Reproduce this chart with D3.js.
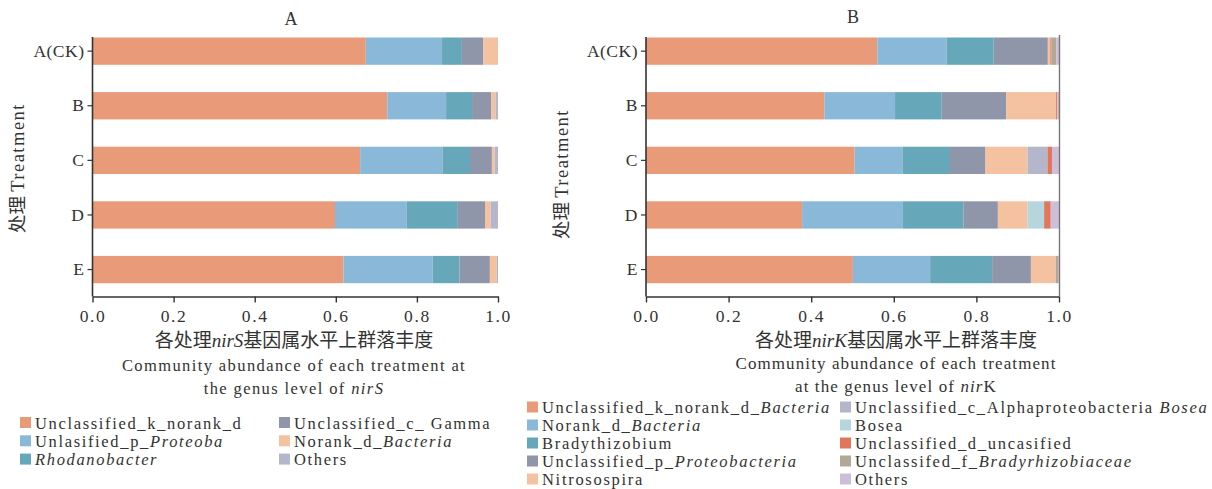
<!DOCTYPE html>
<html>
<head>
<meta charset="utf-8">
<script src="https://cdn.jsdelivr.net/npm/d3@7"></script>
<style>
  body { margin: 0; background: #fff; }
  svg text { font-family: "Liberation Serif", "DejaVu Serif", serif; fill: #333; }
  svg .cjk { font-family: "Noto Sans CJK SC", sans-serif; }
</style>
</head>
<body>
<svg id="chart" width="1212" height="489"></svg>
<script>
// Treatments (rows) and x-axis ticks shared by both panels
const treatments = ["A(CK)", "B", "C", "D", "E"];
const tickValues = [0, 0.2, 0.4, 0.6, 0.8, 1.0];

// nirS genera (segments wrapped in * are italic)
const nirSGenera = ["Unclassified_k_norank_d", "Unlasified_p_*Proteoba*", "*Rhodanobacter*",
                    "Unclassified_c_ Gamma", "Norank_d_*Bacteria*", "Others"];
const nirSColors = ["#e99a78", "#8ab8d8", "#67a7ba", "#9096aa", "#f4c2a0", "#b4b7cb"];
// relative abundance per treatment, in genus order
const nirSValues = [
  [0.674, 0.188, 0.049, 0.053, 0.036, 0.000],
  [0.727, 0.145, 0.064, 0.047, 0.011, 0.006],
  [0.660, 0.203, 0.068, 0.054, 0.007, 0.008],
  [0.598, 0.177, 0.126, 0.067, 0.014, 0.018],
  [0.619, 0.220, 0.066, 0.075, 0.017, 0.003]
];

// nirK genera
const nirKGenera = ["Unclassified_k_norank_d_*Bacteria*", "Norank_d_*Bacteria*", "Bradythizobium",
                    "Unclassified_p_*Proteobacteria*", "Nitrosospira",
                    "Unclassified_c_Alphaproteobacteria *Bosea*", "Bosea", "Unclassified_d_uncasified",
                    "Unclassifed_f_*Bradyrhizobiaceae*", "Others"];
const nirKColors = ["#e99a78", "#8ab8d8", "#67a7ba", "#9096aa", "#f4c2a0",
                    "#b4b7cb", "#b5d6dc", "#e0765a", "#b3a797", "#cdbfd9"];
const nirKValues = [
  [0.560, 0.168, 0.114, 0.131, 0.006, 0.000, 0.000, 0.003, 0.011, 0.007],
  [0.432, 0.171, 0.113, 0.156, 0.121, 0.000, 0.000, 0.003, 0.000, 0.004],
  [0.505, 0.116, 0.115, 0.086, 0.102, 0.048, 0.000, 0.011, 0.000, 0.017],
  [0.378, 0.244, 0.147, 0.083, 0.072, 0.000, 0.040, 0.016, 0.000, 0.020],
  [0.501, 0.187, 0.150, 0.094, 0.060, 0.000, 0.000, 0.000, 0.007, 0.001]
];

const svg = d3.select("#chart");

// write "plain *italic* plain" strings as tspans
function richText(sel, str) {
  str.split("*").forEach((part, i) => {
    if (!part) return;
    sel.append("tspan").text(part).attr("font-style", i % 2 ? "italic" : null);
  });
}

function drawPanel(p) {
  const g = svg.append("g");
  const x = d3.scaleLinear().domain([0, 1]).range([p.x0, p.x1]);
  const y = d3.scaleBand().domain(treatments).range([37.5, 283.2]).paddingInner(0.5).paddingOuter(0);
  const axisY = 296.5;

  const keys = p.genera.map((_, i) => i);
  const rows = treatments.map((t, r) => {
    const o = { treatment: t };
    keys.forEach(k => o[k] = p.values[r][k]);
    return o;
  });
  const series = d3.stack().keys(keys)(rows);

  g.selectAll("g.series").data(series).join("g")
    .attr("fill", d => p.colors[d.key])
    .selectAll("rect").data(d => d).join("rect")
    .attr("x", d => x(d[0]))
    .attr("width", d => Math.max(0, x(d[1]) - x(d[0])))
    .attr("y", d => y(d.data.treatment))
    .attr("height", y.bandwidth());

  // x axis
  const xa = g.append("g").attr("transform", `translate(0,${axisY})`)
    .call(d3.axisBottom(x).tickValues(tickValues).tickFormat(d3.format(".1f")).tickSize(6).tickSizeOuter(0));
  xa.select(".domain").attr("stroke", "#333").attr("stroke-width", 1.6);
  xa.selectAll(".tick line").attr("stroke", "#333").attr("stroke-width", 1.4);
  xa.selectAll(".tick text").attr("font-size", 17.5).attr("letter-spacing", 1.6)
    .attr("font-family", "Liberation Serif").attr("fill", "#333").attr("dy", "0.95em");

  // y axis
  const ya = g.append("g").attr("transform", `translate(${p.x0},0)`)
    .call(d3.axisLeft(y).tickSize(5).tickPadding(3));
  ya.select(".domain").remove();
  ya.selectAll(".tick line").attr("stroke", "#333").attr("stroke-width", 1.2);
  ya.selectAll(".tick text").attr("font-size", 17.5).attr("font-family", "Liberation Serif")
    .attr("fill", "#333").attr("letter-spacing", 0.5);
  g.append("line").attr("x1", p.x0).attr("x2", p.x0).attr("y1", 37).attr("y2", axisY)
    .attr("stroke", "#333").attr("stroke-width", 1.6);
  if (p.rightFrame) {
    g.append("line").attr("x1", p.x1 + 0.5).attr("x2", p.x1 + 0.5).attr("y1", 35).attr("y2", axisY)
      .attr("stroke", "#777").attr("stroke-width", 1.4);
  }

  // panel title
  g.append("text").attr("x", p.titleX).attr("y", p.titleY).attr("text-anchor", "middle")
    .attr("font-size", 18).text(p.title);

  // y axis title
  const yt = g.append("text").attr("transform", `translate(${p.yTitleX},${p.yTitleY}) rotate(-90)`)
    .attr("text-anchor", "middle").attr("font-size", 18.5);
  yt.append("tspan").attr("class", "cjk").text("处理 ");
  yt.append("tspan").attr("letter-spacing", 1.5).text("Treatment");

  // x axis title (Chinese, then two English lines)
  const t1 = g.append("text").attr("x", p.xTitleX).attr("y", 347).attr("text-anchor", "middle")
    .attr("font-size", 19);
  t1.append("tspan").attr("class", "cjk").text("各处理");
  t1.append("tspan").attr("font-style", "italic").text(p.gene);
  t1.append("tspan").attr("class", "cjk").text("基因属水平上群落丰度");
  p.xTitleLines.forEach((line, i) => {
    const t = g.append("text").attr("x", p.xTitleX).attr("y", p.lineY + i * 22.5)
      .attr("text-anchor", "middle").attr("font-size", p.lineSize).attr("letter-spacing", p.lineSpacing);
    richText(t, line);
  });

  // legend
  p.genera.forEach((name, i) => {
    const col = Math.floor(i / p.legendRows), row = i % p.legendRows;
    const lx = p.legendX[col], ly = p.legendY + row * p.legendStep;
    g.append("rect").attr("x", lx).attr("y", ly - 6).attr("width", 11).attr("height", 11)
      .attr("fill", p.colors[i]);
    const t = g.append("text").attr("x", lx + 15).attr("y", ly + 5.5)
      .attr("font-size", 16.5).attr("letter-spacing", p.legendSpacing);
    richText(t, name);
  });
}

drawPanel({
  title: "A", titleX: 291, titleY: 25,
  x0: 92.5, x1: 498, rightFrame: false,
  genera: nirSGenera, colors: nirSColors, values: nirSValues,
  yTitleX: 24, yTitleY: 168,
  gene: "nirS", xTitleX: 294,
  xTitleLines: ["Community abundance of each treatment at", "the genus level of *nirS*"],
  lineY: 371, lineSize: 16.5, lineSpacing: 1.4,
  legendX: [20, 279], legendY: 423, legendStep: 18.3, legendRows: 3, legendSpacing: 1.65
});

drawPanel({
  title: "B", titleX: 853, titleY: 23,
  x0: 646, x1: 1059, rightFrame: true,
  genera: nirKGenera, colors: nirKColors, values: nirKValues,
  yTitleX: 568, yTitleY: 174,
  gene: "nirK", xTitleX: 896,
  xTitleLines: ["Community abundance of each treatment", "at the genus level of *nir*K"],
  lineY: 369, lineSize: 17, lineSpacing: 1.1,
  legendX: [527, 840], legendY: 407.5, legendStep: 18, legendRows: 5, legendSpacing: 1.7
});
</script>
</body>
</html>
